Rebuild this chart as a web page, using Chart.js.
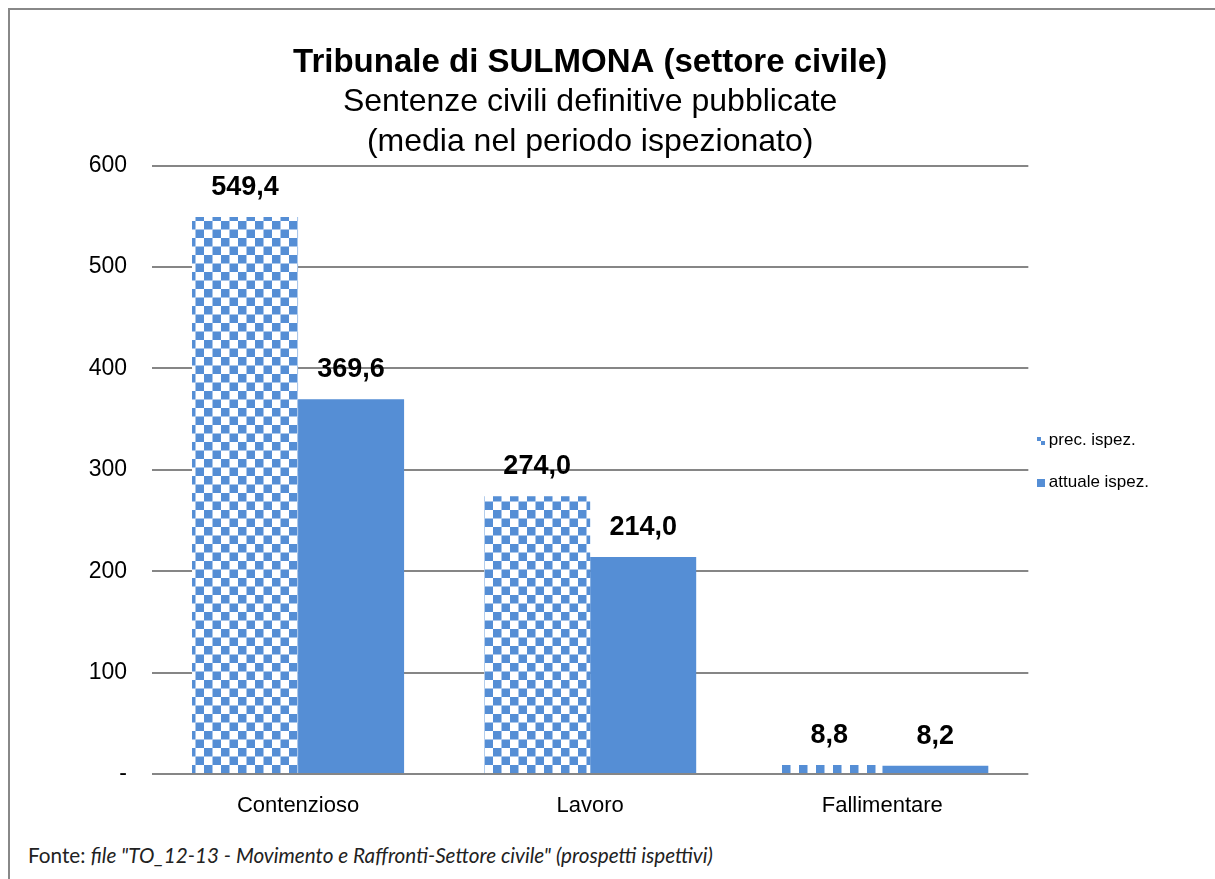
<!DOCTYPE html>
<html>
<head>
<meta charset="utf-8">
<script src="https://cdn.jsdelivr.net/npm/chart.js@4.4.1/dist/chart.umd.min.js"></script>
<style>
  html, body { margin: 0; padding: 0; background: #fff; }
  body { width: 1215px; height: 879px; position: relative; overflow: hidden; }
  .frame { position: absolute; left: 8px; top: 8px; width: 1220px; height: 890px; border: 2px solid #888; box-sizing: border-box; }
  .wrap { position: absolute; left: 0; top: 0; width: 1215px; height: 830px; }
  .fonte { position: absolute; left: 28px; top: 843px; font-family: Lato, 'Open Sans', sans-serif; font-size: 20.7px; color: #222; }
  .fonte i { font-style: italic; }
</style>
</head>
<body>
<div class="frame"></div>
<div class="wrap"><canvas id="chart"></canvas></div>
<div class="fonte">Fonte: <i>file "TO_12-13 - Movimento e Raffronti-Settore civile" (prospetti ispettivi)</i></div>
<script>
// ===== DATA =====
const categories = ['Contenzioso', 'Lavoro', 'Fallimentare'];
const precIspez = [549.4, 274.0, 8.8];
const attualeIspez = [369.6, 214.0, 8.2];
const yTicks = [0, 100, 200, 300, 400, 500, 600];

const BLUE = '#558ed5';
const FONT = "'Liberation Sans Narrow', 'Arial Narrow', 'Liberation Sans', Arial, sans-serif";

// checkerboard fill for the "prec. ispez." series
function checker() {
  const c = document.createElement('canvas');
  const s = 17;
  c.width = s; c.height = s;
  const g = c.getContext('2d');
  g.fillStyle = '#fff';
  g.fillRect(0, 0, s, s);
  g.fillStyle = BLUE;
  g.fillRect(0, 0, 8.5, 8.5);
  g.fillRect(8.5, 8.5, 8.5, 8.5);
  return g.createPattern(c, 'repeat');
}

const fmt = v => v.toFixed(1).replace('.', ',');

const valueLabels = {
  id: 'valueLabels',
  afterDatasetsDraw(chart) {
    const ctx = chart.ctx;
    ctx.save();
    ctx.font = 'bold 27px ' + FONT;
    ctx.fillStyle = '#000';
    ctx.textAlign = 'center';
    ctx.textBaseline = 'bottom';
    chart.data.datasets.forEach((ds, i) => {
      chart.getDatasetMeta(i).data.forEach((bar, j) => {
        ctx.fillText(fmt(ds.data[j]), bar.x, bar.y - 16);
      });
    });
    ctx.restore();
  }
};

// small legend swatches drawn next to the legend text
const legendSwatches = {
  id: 'legendSwatches',
  afterDraw(chart) {
    const boxes = chart.legend && chart.legend.legendHitBoxes;
    if (!boxes) return;
    const ctx = chart.ctx;
    ctx.save();
    boxes.forEach((b, i) => {
      const x = Math.round(b.left) - 3, y = Math.round(b.top + b.height / 2 - 4);
      ctx.fillStyle = BLUE;
      if (i === 0) {
        ctx.fillRect(x, y, 4, 4);
        ctx.fillRect(x + 4, y + 4, 4, 4);
      } else {
        ctx.fillRect(x, y, 8, 8);
      }
    });
    ctx.restore();
  }
};

const canvas = document.getElementById('chart');
new Chart(canvas, {
  type: 'bar',
  data: {
    labels: categories,
    datasets: [
      { label: 'prec. ispez.', data: precIspez, backgroundColor: checker(), borderWidth: 0 },
      { label: 'attuale ispez.', data: attualeIspez, backgroundColor: BLUE, borderWidth: 0 }
    ]
  },
  options: {
    responsive: true,
    maintainAspectRatio: false,
    animation: false,
    datasets: { bar: { categoryPercentage: 0.726, barPercentage: 1 } },
    layout: { padding: { left: 12, right: 56, top: 0, bottom: 0 } },
    plugins: {
      title: {
        display: true,
        fullSize: false,
        text: 'Tribunale di SULMONA (settore civile)',
        color: '#000',
        font: { family: FONT, size: 33, weight: 'bold', lineHeight: 1.2 },
        padding: { top: 43, bottom: 0 }
      },
      subtitle: {
        display: true,
        fullSize: false,
        text: ['Sentenze civili definitive pubblicate', '(media nel periodo ispezionato)'],
        color: '#000',
        font: { family: FONT, size: 32, lineHeight: 1.25 },
        padding: { top: 0, bottom: 3 }
      },
      legend: {
        position: 'right',
        fullSize: false,
        align: 'start',
        title: { display: true, text: ' ', font: { size: 10, lineHeight: 1.2 }, padding: 118 },
        labels: {
          color: '#000',
          boxWidth: 0,
          boxHeight: 30,
          padding: 12,
          font: { family: FONT, size: 17 },
          generateLabels: chart => chart.data.datasets.map((ds, i) => ({
            text: ds.label,
            fillStyle: 'rgba(0,0,0,0)',
            strokeStyle: 'rgba(0,0,0,0)',
            lineWidth: 0,
            fontColor: '#000',
            datasetIndex: i,
            hidden: false
          }))
        }
      },
      tooltip: { enabled: false }
    },
    scales: {
      x: {
        grid: { display: false },
        border: { display: false },
        ticks: { color: '#000', font: { family: FONT, size: 22 }, padding: 11 },
        afterFit: s => { s.height = 56; }
      },
      y: {
        min: 0,
        max: 600,
        afterBuildTicks: s => { s.ticks = yTicks.map(v => ({ value: v })); },
        grid: { color: '#868686', lineWidth: 2, drawTicks: false },
        border: { display: false },
        ticks: {
          color: '#000',
          font: { family: FONT, size: 23 },
          padding: 25,
          callback: v => v === 0 ? '-' : v
        },
        afterFit: s => { s.width = 140; }
      }
    }
  },
  plugins: [valueLabels, legendSwatches]
});
</script>
</body>
</html>
